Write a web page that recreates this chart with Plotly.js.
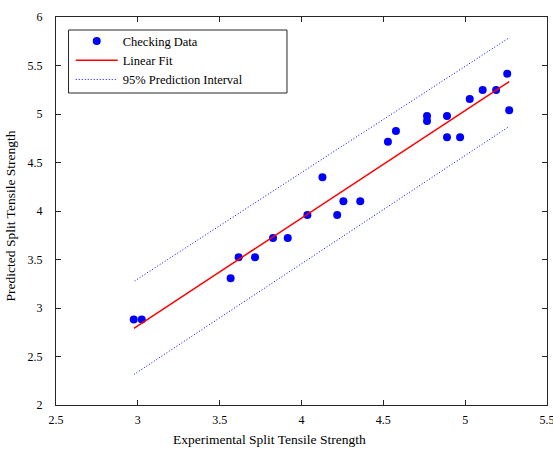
<!DOCTYPE html>
<html>
<head>
<meta charset="utf-8">
<script src="https://cdn.plot.ly/plotly-3.0.1.min.js"></script>
<style>html,body{margin:0;padding:0;background:#fff;}</style>
</head>
<body>
<div id="chart" style="width:553px;height:450px;"></div>
<script>
// Checking data (experimental vs predicted)
const expX = [2.975, 3.024, 3.567, 3.616, 3.716, 3.826, 3.916, 4.036, 4.128, 4.218, 4.256, 4.359,
              4.528, 4.577, 4.767, 4.767, 4.889, 4.889, 4.969, 5.028, 5.107, 5.189, 5.257, 5.269];
const predY = [2.881, 2.881, 3.306, 3.523, 3.523, 3.722, 3.722, 3.959, 4.347, 3.959, 4.100, 4.100,
               4.714, 4.825, 4.979, 4.928, 4.979, 4.760, 4.760, 5.155, 5.247, 5.247, 5.416, 5.038];
// Linear fit end points
const fitX = [2.976, 5.269];
const fitY = [2.791, 5.335];
// 95% prediction interval bounds
const upX = [2.980, 5.263];
const upY = [3.278, 5.780];
const loX = [2.976, 5.266];
const loY = [2.314, 4.869];

const xTicks = [2.5, 3, 3.5, 4, 4.5, 5, 5.5];
const yTicks = [2, 2.5, 3, 3.5, 4, 4.5, 5, 5.5, 6];
const xTitle = 'Experimental Split Tensile Strength';
const yTitle = 'Predicted Split Tensile Strength';

const serif = '"Liberation Serif", "Times New Roman", serif';

const traces = [
  {x: expX, y: predY, type: 'scatter', mode: 'markers', name: 'Checking Data',
   marker: {color: '#0000ff', size: 8}},
  {x: fitX, y: fitY, type: 'scatter', mode: 'lines', name: 'Linear Fit',
   line: {color: '#ff0000', width: 1.5}},
  {x: upX, y: upY, type: 'scatter', mode: 'lines', name: '95% Prediction Interval',
   line: {color: '#0000ff', width: 1, dash: '1px,2px'}},
  {x: loX, y: loY, type: 'scatter', mode: 'lines', name: 'lower', showlegend: false,
   line: {color: '#0000ff', width: 1, dash: '1px,2px'}}
];

const axisCommon = {
  showgrid: false, zeroline: false, showline: true, linecolor: '#262626', linewidth: 1,
  mirror: 'ticks', ticks: 'inside', ticklen: 5, tickcolor: '#262626', tickwidth: 1,
  ticklabeloverflow: 'allow',
  tickfont: {family: serif, size: 12, color: '#000'}
};

const layout = {
  width: 553, height: 450,
  margin: {l: 56, r: 6, t: 17, b: 45},
  paper_bgcolor: '#fff', plot_bgcolor: '#fff',
  font: {family: serif, size: 12, color: '#000'},
  xaxis: Object.assign({}, axisCommon, {
    range: [2.5, 5.5], tickvals: xTicks, ticktext: xTicks.map(String),
    ticklabelstandoff: 4
  }),
  yaxis: Object.assign({}, axisCommon, {
    range: [2, 6], tickvals: yTicks, ticktext: yTicks.map(String),
    ticklabelstandoff: 10
  }),
  annotations: [
    {text: xTitle, xref: 'paper', yref: 'paper', x: (270 - 56.5) / 490, y: (405 - 440) / 388,
     xanchor: 'center', yanchor: 'middle', showarrow: false,
     font: {family: serif, size: 13.5, color: '#000'}},
    {text: yTitle, xref: 'paper', yref: 'paper', x: (12 - 56.5) / 490, y: (405 - 216) / 388,
     xanchor: 'center', yanchor: 'middle', showarrow: false, textangle: -90,
     font: {family: serif, size: 13.5, color: '#000'}}
  ],
  showlegend: true,
  legend: {
    x: 0.03, y: 0.976, xanchor: 'left', yanchor: 'top',
    bgcolor: 'rgba(0,0,0,0)', borderwidth: 0, itemwidth: 42,
    font: {family: serif, size: 12.5, color: '#000'}, tracegroupgap: 0
  },
  shapes: [{
    type: 'rect', xref: 'paper', yref: 'paper',
    x0: (69 - 56.5) / 490, x1: (287 - 56.5) / 490,
    y0: (405 - 93) / 388, y1: (405 - 30) / 388,
    line: {color: '#262626', width: 1}, fillcolor: '#fff', layer: 'below'
  }]
};

Plotly.newPlot('chart', traces, layout, {displayModeBar: false, staticPlot: true});
</script>
</body>
</html>
